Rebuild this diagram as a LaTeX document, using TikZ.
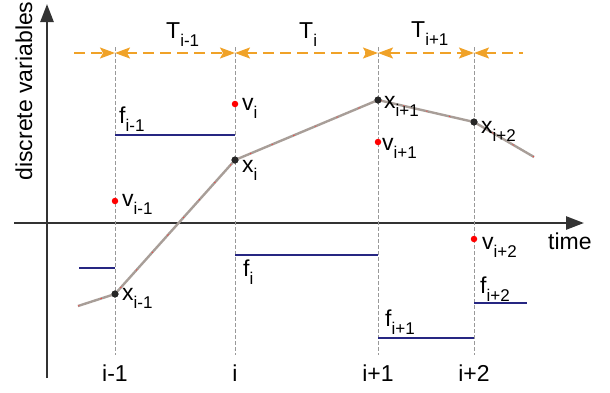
\documentclass[tikz,border=0pt]{standalone}
\usepackage{fontspec}
\setmainfont{Liberation Sans}
\usetikzlibrary{arrows.meta, positioning}
\definecolor{tarrow}{RGB}{240,162,40}
\definecolor{fbarcol}{RGB}{38,38,130}
\definecolor{xcurve}{RGB}{168,158,152}
\tikzset{
  axisline/.style={line width=2.6pt, draw=black!80},
  gridline/.style={draw=black!40, line width=0.6pt, dash pattern=on 4pt off 2pt},
  tarr/.style={draw=tarrow, line width=1.9pt, dash pattern=on 11pt off 6pt},
  fbar/.style={draw=fbarcol, line width=1.5pt},
  xcurveline/.style={draw=xcurve, line width=2.4pt},
  xpt/.style={circle, fill=black!85, inner sep=0pt, minimum size=7pt},
  vpt/.style={circle, fill=red, inner sep=0pt, minimum size=6.5pt},
  lab/.style={font=\fontsize{23}{25}\selectfont, inner sep=0pt, anchor=base west},
  ticklab/.style={lab, anchor=base},
}
\newcommand\subl[2]{#1\raisebox{-8pt}{\fontsize{17}{17}\selectfont #2}}

\begin{document}
\begin{tikzpicture}[x=1pt, y=-1pt]
  \useasboundingbox (0,0) rectangle (610,392);

  % Achsen
  \coordinate (ybot) at (47,378);
  \coordinate (ytop) at (47,4);
  \coordinate (xleft) at (14,223);
  \coordinate (xright) at (584,223);
  \draw[axisline, -{Triangle[length=18pt, width=13pt]}] (ybot) -- (ytop);
  \draw[axisline, -{Triangle[length=18pt, width=13pt]}] (xleft) -- (xright);
  \node[lab, anchor=center, rotate=90] (ylab) at (24,91) {discrete variables};
  \node[lab] (tlab) at (548,249) {time};

  % Zeitpunkte
  \foreach \x/\n/\t in {115/a/i-1, 235/b/i, 378/c/i+1, 474/d/i+2} {
    \coordinate (\n top) at (\x,47);
    \coordinate (\n bot) at (\x,355);
    \coordinate (\n T) at (\x,53);
    \draw[gridline] (\n top) -- (\n bot);
    \node[ticklab] (\n tick) at (\x,381) {\t};
  }

  % Intervalle
  \coordinate (Tleft) at (74,53);
  \coordinate (Tright) at (523,53);
  \draw[tarr, -{Stealth[length=15pt, width=11pt, inset=3pt]}] (Tleft) -- (aT);
  \draw[tarr, {Stealth[length=15pt, width=11pt, inset=3pt]}-{Stealth[length=15pt, width=11pt, inset=3pt]}] (aT) -- (bT);
  \draw[tarr, {Stealth[length=15pt, width=11pt, inset=3pt]}-{Stealth[length=15pt, width=11pt, inset=3pt]}] (bT) -- (cT);
  \draw[tarr, {Stealth[length=15pt, width=11pt, inset=3pt]}-{Stealth[length=15pt, width=11pt, inset=3pt]}] (cT) -- (dT);
  \draw[tarr, {Stealth[length=15pt, width=11pt, inset=3pt]}-] (dT) -- (Tright);
  \node[lab] (Ta) at (166,38) {\subl{T}{i-1}};
  \node[lab] (Tb) at (299,38) {\subl{T}{i}};
  \node[lab] (Tc) at (411,37) {\subl{T}{i+1}};

  % f-Werte
  \draw[fbar] (79,268) -- (115,268);
  \draw[fbar] (115,135) -- (235,135);
  \draw[fbar] (235,255) -- (378,255);
  \draw[fbar] (378,338) -- (474,338);
  \draw[fbar] (474,303) -- (527,303);
  \node[lab] (fa) at (119,123) {\subl{f}{i-1}};
  \node[lab] (fb) at (243,276) {\subl{f}{i}};
  \node[lab] (fc) at (385,326) {\subl{f}{i+1}};
  \node[lab] (fd) at (480,293) {\subl{f}{i+2}};

  % x-Kurve
  \coordinate (xstart) at (78,306);
  \coordinate (xend) at (534,157);
  \node[xpt] (xa) at (115,294) {};
  \node[xpt] (xb) at (235,160) {};
  \node[xpt] (xc) at (378,100) {};
  \node[xpt] (xd) at (474,122) {};
  \draw[xcurveline] (xstart) -- (xa.center) -- (xb.center) -- (xc.center) -- (xd.center) -- (xend);
  \draw[red!80, line width=0.6pt, dash pattern=on 1.5pt off 22pt] (xstart) -- (xa.center) -- (xb.center) -- (xc.center) -- (xd.center) -- (xend);
  \node[xpt] at (xa) {};
  \node[xpt] at (xb) {};
  \node[xpt] at (xc) {};
  \node[xpt] at (xd) {};
  \node[lab] (xla) at (122,300) {\subl{x}{i-1}};
  \node[lab] (xlb) at (242,172) {\subl{x}{i}};
  \node[lab] (xlc) at (384,108) {\subl{x}{i+1}};
  \node[lab] (xld) at (481,133) {\subl{x}{i+2}};

  % v-Werte
  \node[vpt] (va) at (115,201) {};
  \node[vpt] (vb) at (235,104) {};
  \node[vpt] (vc) at (378,142) {};
  \node[vpt] (vd) at (474,239) {};
  \node[lab] (vla) at (122,206) {\subl{v}{i-1}};
  \node[lab] (vlb) at (242,110) {\subl{v}{i}};
  \node[lab] (vlc) at (382,150) {\subl{v}{i+1}};
  \node[lab] (vld) at (482,249) {\subl{v}{i+2}};
\end{tikzpicture}
\end{document}
